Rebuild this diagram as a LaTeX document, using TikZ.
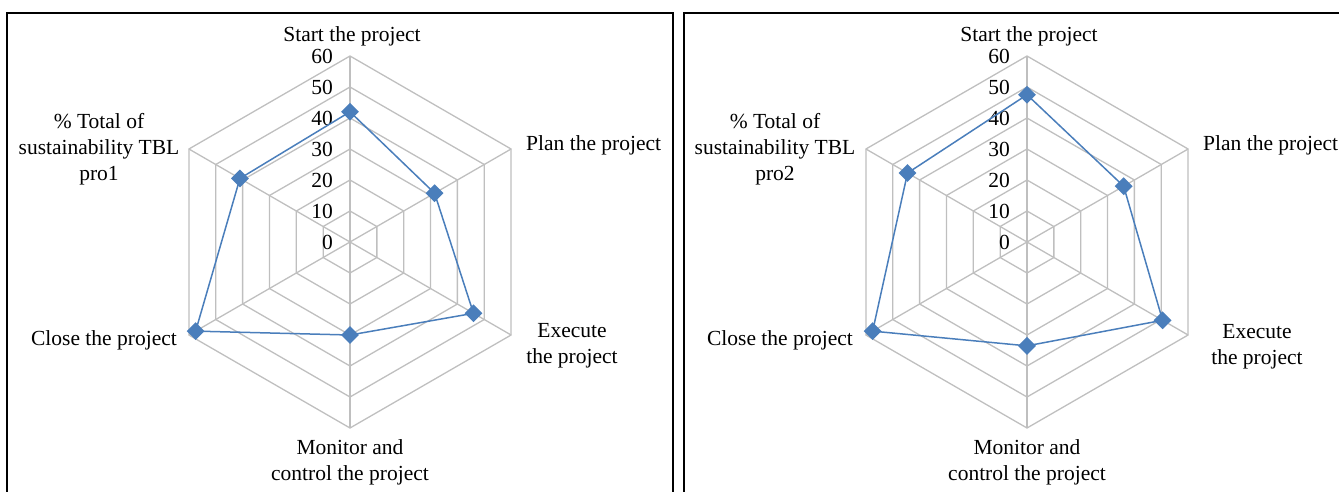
\documentclass[tikz,border=0pt]{standalone}
\usepackage{fontspec}
\setmainfont{Liberation Serif}
\usetikzlibrary{shapes.geometric}
\definecolor{gridgray}{HTML}{BFBFBF}
\definecolor{seriesblue}{HTML}{4A7EBB}
\tikzset{
  gridline/.style={draw=gridgray, line width=1.3pt},
  series/.style={draw=seriesblue, line width=1.5pt, line join=round},
  marker/.style={diamond, fill=seriesblue, inner sep=0pt, minimum width=18pt, minimum height=18pt},
  axislabel/.style={font=\fontsize{21.5}{26}\selectfont, inner sep=0pt, align=center},
  ticklabel/.style={font=\fontsize{21.5}{26}\selectfont, inner sep=0pt, anchor=east},
  panelframe/.style={draw=black, line width=2pt},
}
% scale of the radar charts: 3.1pt per percentage point (ring 60 = 186pt)
\def\unitr{3.1}

\begin{document}
\begin{tikzpicture}[x=1pt,y=1pt]
\useasboundingbox (0,0) rectangle (1339,-491);

% panel frames
\draw[panelframe] (7,-13) rectangle (673,-500);
\draw[panelframe] (684,-13) rectangle (1345,-500);

% ---------- radar grid and values (drawn for each panel) ----------
\foreach \cx/\pre/\vs/\vp/\ve/\vm/\vc/\vt in {
    350/L/42/31.5/46/30/57.5/41,
    1027/R/47.5/36/50.5/33.5/57.5/44.5}{
  \begin{scope}[shift={(\cx,-242)}]
    % rings
    \foreach \k in {1,...,6}{
      \draw[gridline] (90:\k*31) -- (30:\k*31) -- (-30:\k*31) -- (-90:\k*31)
        -- (-150:\k*31) -- (150:\k*31) -- cycle;
    }
    % spokes
    \coordinate (\pre-c) at (0,0);
    \foreach \a in {90,30,-30,-90,-150,150}{
      \draw[gridline] (\pre-c) -- (\a:186);
    }
    % tick labels
    \foreach \v in {0,10,...,60}{
      \node[ticklabel] (\pre-tick\v) at (-17,\v*\unitr) {\v};
    }
    % series points
    \coordinate (\pre-start)   at (90:\vs*\unitr);
    \coordinate (\pre-plan)    at (30:\vp*\unitr);
    \coordinate (\pre-execute) at (-30:\ve*\unitr);
    \coordinate (\pre-monitor) at (-90:\vm*\unitr);
    \coordinate (\pre-close)   at (-150:\vc*\unitr);
    \coordinate (\pre-total)   at (150:\vt*\unitr);
    \draw[series] (\pre-start) -- (\pre-plan) -- (\pre-execute) -- (\pre-monitor)
      -- (\pre-close) -- (\pre-total) -- cycle;
    \foreach \p in {start,plan,execute,monitor,close,total}{
      \node[marker] (\pre-m-\p) at (\pre-\p) {};
    }
  \end{scope}
}

% ---------- axis labels, left panel ----------
\node[axislabel, anchor=base] (L-lab-start) at (352,-41) {Start the project};
\node[axislabel, anchor=base west] (L-lab-plan) at (526,-150) {Plan the project};
\node[axislabel, anchor=north] (L-lab-execute) at (572,-323) {Execute\\the project};
\node[axislabel, anchor=north] (L-lab-monitor) at (350,-439) {Monitor and\\control the project};
\node[axislabel, anchor=base east] (L-lab-close) at (177,-345) {Close the project};
\node[axislabel, anchor=north] (L-lab-total) at (99,-113) {\% Total of\\sustainability TBL\\pro1};

% ---------- axis labels, right panel ----------
\node[axislabel, anchor=base] (R-lab-start) at (1029,-41) {Start the project};
\node[axislabel, anchor=base west] (R-lab-plan) at (1203,-150) {Plan the project};
\node[axislabel, anchor=north] (R-lab-execute) at (1257,-324) {Execute\\the project};
\node[axislabel, anchor=north] (R-lab-monitor) at (1027,-439) {Monitor and\\control the project};
\node[axislabel, anchor=base east] (R-lab-close) at (853,-345) {Close the project};
\node[axislabel, anchor=north] (R-lab-total) at (775,-113) {\% Total of\\sustainability TBL\\pro2};
\end{tikzpicture}
\end{document}
